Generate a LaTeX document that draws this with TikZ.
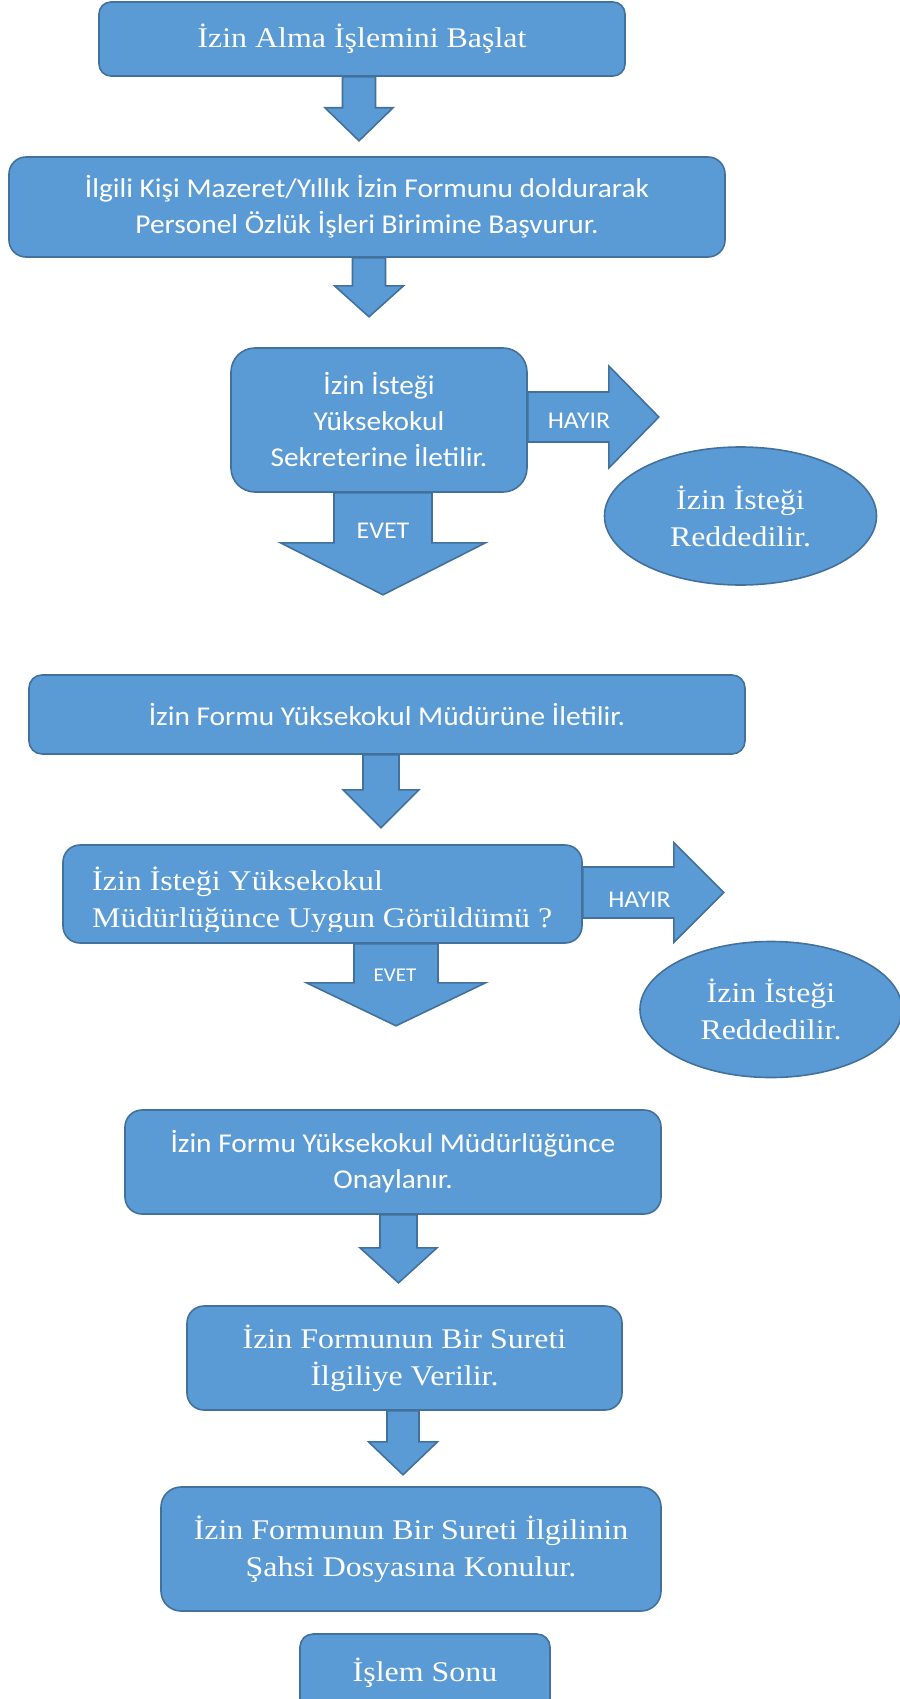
\documentclass[tikz,border=0pt]{standalone}
\usepackage{fontspec}
\setmainfont[FakeStretch=1.12]{Liberation Serif}
\newfontfamily\calibrifont[FakeStretch=1.08]{Carlito}
\usepackage{tikz}
\usetikzlibrary{shapes.geometric, calc}
\definecolor{boxfill}{HTML}{5B9BD5}
\definecolor{boxline}{HTML}{41719C}
\tikzstyle{process} = [rectangle, draw=boxline, fill=boxfill, line width=1.6pt, text=white, align=center, inner sep=0pt]
\tikzstyle{sanstext} = [font=\calibrifont\fontsize{27.2}{36}\selectfont]
\tikzstyle{seriftext} = [font=\fontsize{28.5}{37}\selectfont]
\tikzstyle{reject} = [ellipse, draw=boxline, fill=boxfill, line width=1.6pt, text=white, align=center, inner sep=0pt, font=\fontsize{28.5}{37}\selectfont]
\tikzstyle{blockarrow} = [draw=boxline, fill=boxfill, line width=1.6pt, line join=miter]
\tikzstyle{answer} = [text=white, inner sep=0pt, font=\calibrifont\fontsize{24}{28}\selectfont]

% start, shaft length, head length, shaft half width, head half width
\newcommand{\blockdown}[5]{\draw[blockarrow] ($(#1)+(-#4,0)$) -- ++(0,#2) -- ++(#4-#5,0) -- ++(#5,#3) -- ++(#5,-#3) -- ++(#4-#5,0) -- ++(0,-#2) -- cycle;}
\newcommand{\blockright}[5]{\draw[blockarrow] ($(#1)+(0,-#4)$) -- ++(#2,0) -- ++(0,#4-#5) -- ++(#3,#5) -- ++(-#3,#5) -- ++(0,#4-#5) -- ++(-#2,0) -- cycle;}

\begin{document}
\begin{tikzpicture}[x=1pt, y=-1pt]
    \useasboundingbox (0,0) rectangle (899,1699);

    % boxes
    \node[process, seriftext, rounded corners=12, minimum width=526, minimum height=74] (start) at (362,39) {İzin Alma İşlemini Başlat};
    \node[process, sanstext, rounded corners=17, minimum width=716, minimum height=100] (apply) at (367,207) {İlgili Kişi Mazeret/Yıllık İzin Formunu doldurarak\\Personel Özlük İşleri Birimine Başvurur.};
    \node[process, sanstext, rounded corners=24, minimum width=296, minimum height=144] (secr) at (379,420) {İzin İsteği\\Yüksekokul\\Sekreterine İletilir.};
    \node[reject, minimum width=272, minimum height=138] (rej1) at (740.5,516) {İzin İsteği\\Reddedilir.};
    \node[process, sanstext, rounded corners=13, minimum width=716, minimum height=79] (direc) at (387,714.5) {İzin Formu Yüksekokul Müdürüne İletilir.};
    \node[process, rounded corners=17, minimum width=519, minimum height=98] (check) at (322.5,894) {};
    \begin{scope}
        \clip (63,846) rectangle (582,931);
        \node[seriftext, text=white, align=left, inner sep=0pt, anchor=west] (checktext) at (92,900.5) {İzin İsteği Yüksekokul\\Müdürlüğünce Uygun Görüldümü ?};
    \end{scope}
    \node[reject, minimum width=262, minimum height=136] (rej2) at (771,1009.5) {İzin İsteği\\Reddedilir.};
    \node[process, sanstext, rounded corners=17, minimum width=536, minimum height=104] (approve) at (393,1162) {İzin Formu Yüksekokul Müdürlüğünce\\Onaylanır.};
    \node[process, seriftext, rounded corners=17, minimum width=435, minimum height=104] (copy) at (404.5,1358) {İzin Formunun Bir Sureti\\İlgiliye Verilir.};
    \node[process, seriftext, rounded corners=20, minimum width=500, minimum height=124] (file) at (411,1549) {İzin Formunun Bir Sureti İlgilinin\\Şahsi Dosyasına Konulur.};
    \node[process, seriftext, rounded corners=13, minimum width=250, minimum height=78] (finish) at (425,1673) {İşlem Sonu};

    % block arrows
    \blockdown{[xshift=-3pt]start.south}{31}{33}{16.5}{34}
    \blockdown{[xshift=2pt]apply.south}{28}{31}{16.5}{34.5}
    \blockdown{[xshift=4pt]secr.south}{50}{52}{49}{102.5}
    \blockright{[yshift=3pt]secr.east}{81}{50}{25}{51}
    \blockdown{[xshift=-6pt]direc.south}{35}{38}{18}{38}
    \blockright{[yshift=1.5pt]check.east}{91}{50}{25.5}{50}
    \blockdown{[xshift=73.5pt]check.south}{39}{43}{42}{89.5}
    \blockdown{[xshift=5.5pt]approve.south}{33}{35}{18.5}{38.5}
    \blockdown{[xshift=-1.5pt]copy.south}{31}{33}{16}{34.5}

    % answers
    \node[answer] (no1) at (579,421) {HAYIR};
    \node[answer] (yes1) at (383,531) {EVET};
    \node[answer] (no2) at (639.5,900) {HAYIR};
    \node[answer, font=\calibrifont\fontsize{19.5}{24}\selectfont] (yes2) at (395,975) {EVET};
\end{tikzpicture}
\end{document}
